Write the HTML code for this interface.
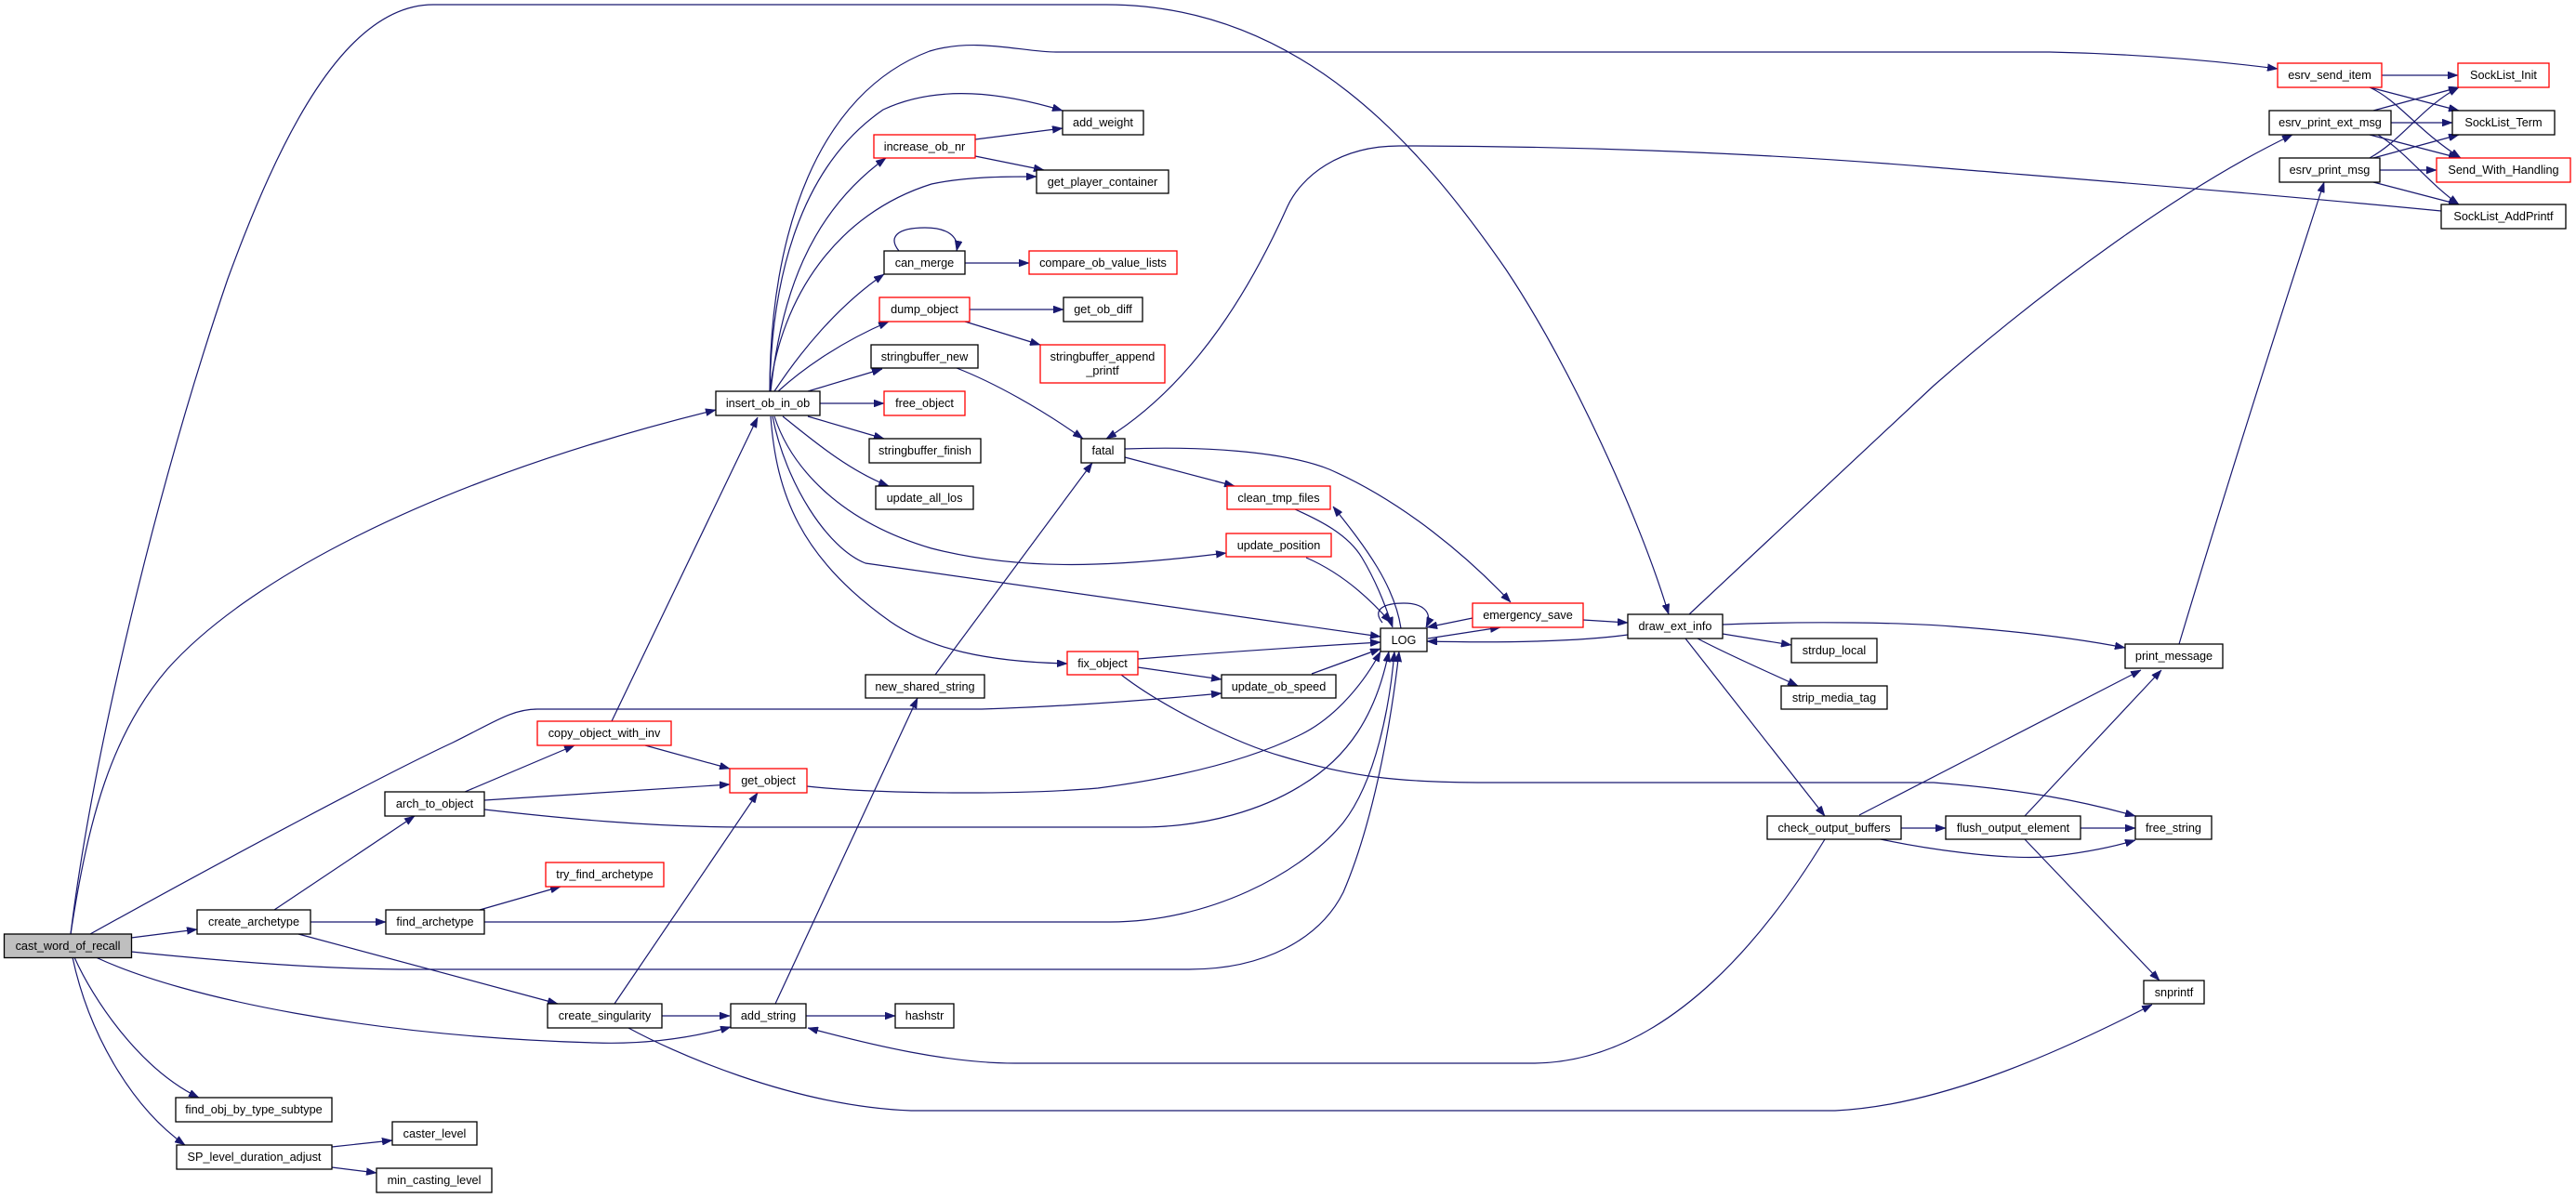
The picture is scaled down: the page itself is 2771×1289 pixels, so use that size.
<!DOCTYPE html>
<html><head><meta charset="utf-8"><style>
html,body{margin:0;padding:0;background:#fff;}
svg{display:block;}
text{font-family:"Liberation Sans",Arial,sans-serif;font-size:12.7px;fill:#000;text-anchor:middle;}
.e{fill:none;stroke:#191970;stroke-width:1.2;marker-end:url(#a);}
.n{fill:#fff;stroke:#000;stroke-width:1.3;}
.r{fill:#fff;stroke:#ff0000;stroke-width:1.3;}
.g{fill:#bfbfbf;stroke:#000;stroke-width:1.3;}
</style></head><body>
<svg width="2771" height="1289" viewBox="0 0 2771 1289" xmlns="http://www.w3.org/2000/svg">
<defs><marker id="a" markerUnits="userSpaceOnUse" markerWidth="11" markerHeight="8" viewBox="0 0 11 8" refX="11" refY="4" orient="auto"><path d="M0,0 L11,4 L0,8 z" fill="#191970" stroke="#191970" stroke-width="0.5"/></marker></defs>
<rect width="2771" height="1289" fill="#fff"/>
<!-- edges from root -->
<path class="e" d="M76,1005 C100,810 170,520 245,300 C300,150 370,5 466,5 L1190,5 C1400,5 1530,160 1620,290 C1690,395 1765,560 1795,661"/>
<path class="e" d="M76,1005 C95,880 120,790 180,720 C260,630 450,520 770,441"/>
<path class="e" d="M97,1005 C250,920 420,830 487,799 C530,778 550,763 578,763 L1056,763 C1150,760 1250,752 1314,746"/>
<path class="e" d="M141,1009 L212,1000"/>
<path class="e" d="M141,1024 C250,1035 350,1043 446,1043 L1279,1043 C1360,1043 1420,1010 1445,960 C1475,890 1495,790 1505,701"/>
<path class="e" d="M103,1030 C200,1075 400,1115 640,1122 C700,1124 750,1115 786,1105"/>
<path class="e" d="M80,1030 C100,1075 150,1150 214,1181"/>
<path class="e" d="M78,1030 C95,1110 140,1190 199,1232"/>
<!-- create_archetype -->
<path class="e" d="M295,979 L446,878"/>
<path class="e" d="M334,992 L415,992"/>
<path class="e" d="M321,1005 L600,1080"/>
<!-- find_archetype -->
<path class="e" d="M516,979 L603,954"/>
<path class="e" d="M521,992 L1194,992 C1300,992 1400,940 1445,885 C1480,840 1495,760 1500,701"/>
<!-- arch_to_object -->
<path class="e" d="M500,852 L618,802"/>
<path class="e" d="M521,861 L785,844"/>
<path class="e" d="M521,871 C600,880 700,890 802,890 L1226,890 C1300,890 1360,870 1400,845 C1450,815 1480,770 1494,701"/>
<!-- copy_object_with_inv -->
<path class="e" d="M658,776 L815,449"/>
<path class="e" d="M694,802 L785,827"/>
<!-- create_singularity -->
<path class="e" d="M661,1080 L815,853"/>
<path class="e" d="M712,1093 L785,1093"/>
<path class="e" d="M676,1106 C720,1130 850,1190 980,1195 L1974,1195 C2080,1190 2200,1140 2315,1081"/>
<!-- SP -->
<path class="e" d="M357,1234 L422,1227"/>
<path class="e" d="M357,1256 L405,1262"/>
<!-- insert_ob_in_ob -->
<path class="e" d="M828,421 C830,300 860,180 950,118 C1010,90 1080,100 1143,119"/>
<path class="e" d="M828,421 C828,250 880,100 1000,55 C1050,40 1100,56 1136,56 L2205,56 C2300,58 2380,65 2450,74"/>
<path class="e" d="M829,421 C840,320 870,230 953,170"/>
<path class="e" d="M828,421 C840,320 900,230 1002,198 C1040,190 1080,190 1115,190"/>
<path class="e" d="M833,421 C860,380 900,330 951,295"/>
<path class="e" d="M837,421 C860,400 900,370 956,346"/>
<path class="e" d="M869,421 L949,397"/>
<path class="e" d="M882,434 L951,434"/>
<path class="e" d="M869,448 L951,472"/>
<path class="e" d="M842,448 C870,470 910,505 956,523"/>
<path class="e" d="M833,448 C850,500 900,560 1002,590 C1100,615 1200,610 1319,595"/>
<path class="e" d="M831,448 C845,520 890,590 931,606 L1485,685"/>
<path class="e" d="M829,448 C835,530 860,600 958,669 C1000,698 1060,712 1148,714"/>
<!-- mid -->
<path class="e" d="M1029,396 C1070,412 1120,440 1165,472"/>
<path class="e" d="M1043,333 L1144,333"/>
<path class="e" d="M1038,346 L1119,371"/>
<path class="e" d="M1038,283 L1107,283"/>
<path class="e" d="M967,270 C955,255 965,245 995,245 C1020,245 1032,255 1029,270"/>
<path class="e" d="M1049,150 L1143,138"/>
<path class="e" d="M1049,168 L1123,183"/>
<path class="e" d="M1006,726 L1175,498"/>
<path class="e" d="M834,1080 L987,751"/>
<path class="e" d="M867,1093 L963,1093"/>
<path class="e" d="M1210,492 L1328,523"/>
<path class="e" d="M1210,483 C1290,480 1380,485 1430,505 C1510,540 1580,600 1625,648"/>
<path class="e" d="M2626,227 C2400,205 2200,190 2080,180 C1900,165 1700,157 1505,157 C1440,157 1400,190 1385,222 C1350,300 1290,410 1190,472"/>
<path class="e" d="M868,846 C950,855 1100,855 1181,848 C1280,835 1350,815 1400,790 C1440,770 1470,730 1485,701"/>
<!-- fix_object -->
<path class="e" d="M1224,709 C1300,703 1400,696 1485,691"/>
<path class="e" d="M1224,718 L1314,731"/>
<path class="e" d="M1206,726 C1250,760 1330,800 1380,814 C1450,835 1500,842 1600,842 L2080,842 C2180,850 2240,862 2297,878"/>
<!-- LOG area -->
<path class="e" d="M1411,725 L1485,698"/>
<path class="e" d="M1405,600 C1440,615 1470,640 1496,670"/>
<path class="e" d="M1393,548 C1420,560 1450,575 1465,600 C1480,625 1490,650 1498,675"/>
<path class="e" d="M1507,676 C1500,630 1470,590 1434,545"/>
<path class="e" d="M1487,670 C1475,655 1490,649 1510,649 C1530,649 1542,658 1534,675"/>
<path class="e" d="M1536,687 L1614,675"/>
<path class="e" d="M1584,665 L1535,675"/>
<path class="e" d="M1703,667 L1751,670"/>
<path class="e" d="M1751,683 C1700,690 1620,692 1535,690"/>
<!-- draw_ext_info -->
<path class="e" d="M1817,661 L2080,415 C2200,310 2350,200 2466,145"/>
<path class="e" d="M1853,672 C1950,668 2050,670 2100,674 C2180,680 2240,688 2286,697"/>
<path class="e" d="M1853,682 L1927,694"/>
<path class="e" d="M1826,687 C1860,705 1900,722 1934,738"/>
<path class="e" d="M1813,687 L1963,878"/>
<!-- check_output_buffers -->
<path class="e" d="M2000,877 L2303,721"/>
<path class="e" d="M2045,891 L2093,891"/>
<path class="e" d="M2023,903 C2070,913 2150,925 2200,922 C2240,918 2270,912 2297,904"/>
<path class="e" d="M1963,903 C1910,990 1800,1144 1648,1144 L1092,1144 C1020,1144 940,1125 869,1106"/>
<!-- flush_output_element -->
<path class="e" d="M2178,878 L2325,721"/>
<path class="e" d="M2238,891 L2297,891"/>
<path class="e" d="M2178,903 L2323,1055"/>
<!-- print_message -->
<path class="e" d="M2344,693 C2390,540 2450,350 2500,196"/>
<!-- esrv -->
<path class="e" d="M2562,81 L2644,81"/>
<path class="e" d="M2549,94 L2645,119"/>
<path class="e" d="M2549,94 C2580,108 2600,140 2647,170"/>
<path class="e" d="M2553,119 L2645,94"/>
<path class="e" d="M2572,132 L2638,132"/>
<path class="e" d="M2549,145 L2645,170"/>
<path class="e" d="M2558,145 C2590,165 2610,195 2645,220"/>
<path class="e" d="M2549,170 C2585,150 2605,115 2645,94"/>
<path class="e" d="M2553,170 L2645,145"/>
<path class="e" d="M2560,183 L2621,183"/>
<path class="e" d="M2553,196 L2645,220"/>

<!-- nodes -->
<rect class="g" x="4.5" y="1005" width="137" height="25.5"/><text x="73" y="1022">cast_word_of_recall</text>
<rect class="n" x="212" y="979" width="122" height="26"/><text x="273" y="996">create_archetype</text>
<rect class="n" x="415" y="979" width="106" height="26"/><text x="468" y="996">find_archetype</text>
<rect class="n" x="414" y="852" width="107" height="26"/><text x="467.5" y="869">arch_to_object</text>
<rect class="r" x="578" y="776" width="144" height="26"/><text x="650" y="793">copy_object_with_inv</text>
<rect class="r" x="587" y="928" width="127" height="26"/><text x="650.5" y="945">try_find_archetype</text>
<rect class="n" x="589" y="1080" width="123" height="26"/><text x="650.5" y="1097">create_singularity</text>
<rect class="n" x="189" y="1181" width="168" height="26"/><text x="273" y="1198">find_obj_by_type_subtype</text>
<rect class="n" x="190" y="1232" width="167" height="26"/><text x="273.5" y="1249">SP_level_duration_adjust</text>
<rect class="n" x="422" y="1207" width="91" height="25"/><text x="467.5" y="1224">caster_level</text>
<rect class="n" x="405" y="1257" width="124" height="26"/><text x="467" y="1274">min_casting_level</text>
<rect class="n" x="770" y="421" width="112" height="26"/><text x="826" y="438">insert_ob_in_ob</text>
<rect class="r" x="785" y="827" width="83" height="26"/><text x="826.5" y="844">get_object</text>
<rect class="n" x="786" y="1080" width="81" height="26"/><text x="826.5" y="1097">add_string</text>
<rect class="n" x="1143" y="119" width="87" height="26"/><text x="1186.5" y="136">add_weight</text>
<rect class="r" x="940" y="145" width="109" height="25"/><text x="994.5" y="162">increase_ob_nr</text>
<rect class="n" x="1115" y="183" width="142" height="25"/><text x="1186" y="200">get_player_container</text>
<rect class="n" x="951" y="270" width="87" height="25"/><text x="994.5" y="287">can_merge</text>
<rect class="r" x="1107" y="270" width="159" height="25"/><text x="1186.5" y="287">compare_ob_value_lists</text>
<rect class="r" x="946" y="320" width="97" height="26"/><text x="994.5" y="337">dump_object</text>
<rect class="n" x="1144" y="320" width="85" height="26"/><text x="1186.5" y="337">get_ob_diff</text>
<rect class="r" x="1119" y="371" width="134" height="41"/><text x="1186" y="388">stringbuffer_append</text><text x="1186" y="403">_printf</text>
<rect class="n" x="937" y="371" width="115" height="25"/><text x="994.5" y="388">stringbuffer_new</text>
<rect class="r" x="951" y="421" width="87" height="26"/><text x="994.5" y="438">free_object</text>
<rect class="n" x="935" y="472" width="120" height="26"/><text x="995" y="489">stringbuffer_finish</text>
<rect class="n" x="942" y="523" width="105" height="25"/><text x="994.5" y="540">update_all_los</text>
<rect class="n" x="931" y="726" width="128" height="25"/><text x="995" y="743">new_shared_string</text>
<rect class="n" x="963" y="1080" width="63" height="26"/><text x="994.5" y="1097">hashstr</text>
<rect class="n" x="1163" y="472" width="47" height="26"/><text x="1186.5" y="489">fatal</text>
<rect class="r" x="1148" y="701" width="76" height="25"/><text x="1186" y="718">fix_object</text>
<rect class="r" x="1320" y="523" width="111" height="25"/><text x="1375.5" y="540">clean_tmp_files</text>
<rect class="r" x="1319" y="574" width="113" height="25"/><text x="1375.5" y="591">update_position</text>
<rect class="n" x="1314" y="726" width="123" height="25"/><text x="1375.5" y="743">update_ob_speed</text>
<rect class="n" x="1485" y="676" width="50" height="25"/><text x="1510" y="693">LOG</text>
<rect class="r" x="1584" y="649" width="119" height="26"/><text x="1643.5" y="666">emergency_save</text>
<rect class="n" x="1751" y="661" width="102" height="26"/><text x="1802" y="678">draw_ext_info</text>
<rect class="n" x="1927" y="687" width="92" height="26"/><text x="1973" y="704">strdup_local</text>
<rect class="n" x="1916" y="738" width="114" height="25"/><text x="1973" y="755">strip_media_tag</text>
<rect class="n" x="1901" y="878" width="144" height="25"/><text x="1973" y="895">check_output_buffers</text>
<rect class="n" x="2093" y="878" width="145" height="25"/><text x="2165.5" y="895">flush_output_element</text>
<rect class="n" x="2297" y="878" width="82" height="25"/><text x="2338" y="895">free_string</text>
<rect class="n" x="2286" y="693" width="105" height="26"/><text x="2338.5" y="710">print_message</text>
<rect class="n" x="2306" y="1055" width="65" height="25"/><text x="2338.5" y="1072">snprintf</text>
<rect class="r" x="2450" y="68" width="112" height="26"/><text x="2506" y="85">esrv_send_item</text>
<rect class="n" x="2441" y="119" width="131" height="26"/><text x="2506.5" y="136">esrv_print_ext_msg</text>
<rect class="n" x="2452" y="170" width="108" height="26"/><text x="2506" y="187">esrv_print_msg</text>
<rect class="r" x="2644" y="68" width="98" height="26"/><text x="2693" y="85">SockList_Init</text>
<rect class="n" x="2638" y="119" width="110" height="26"/><text x="2693" y="136">SockList_Term</text>
<rect class="r" x="2621" y="170" width="144" height="26"/><text x="2693" y="187">Send_With_Handling</text>
<rect class="n" x="2626" y="220" width="134" height="26"/><text x="2693" y="237">SockList_AddPrintf</text>
</svg>
</body></html>
